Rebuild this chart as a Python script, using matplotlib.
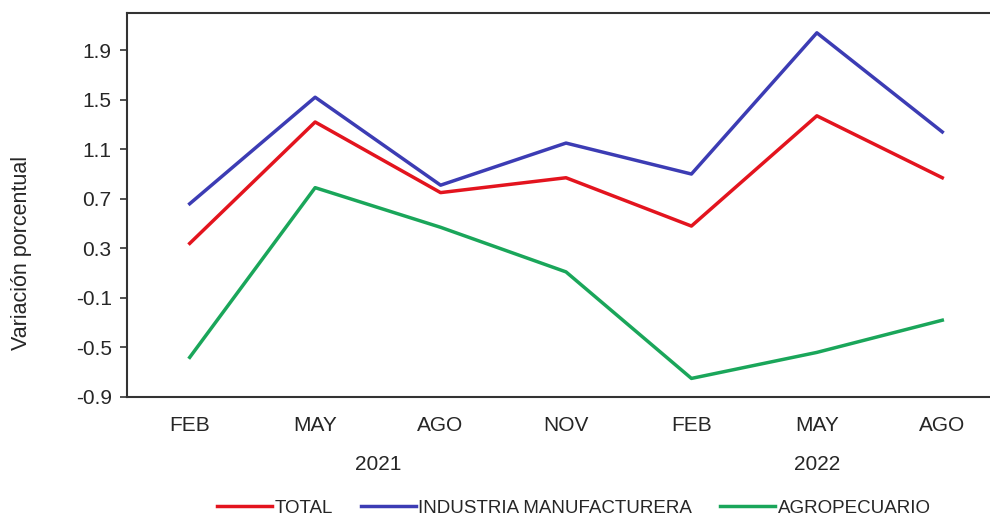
import matplotlib.pyplot as plt

months = ['FEB', 'MAY', 'AGO', 'NOV', 'FEB', 'MAY', 'AGO']
years = ['2021', '2022']
year_spans = [(0, 3), (4, 6)]

total = [0.34, 1.32, 0.75, 0.87, 0.48, 1.37, 0.87]
industria = [0.66, 1.52, 0.81, 1.15, 0.90, 2.04, 1.24]
agro = [-0.58, 0.79, 0.47, 0.11, -0.75, -0.54, -0.28]

yticks = [-0.9, -0.5, -0.1, 0.3, 0.7, 1.1, 1.5, 1.9]

plt.rcParams['font.family'] = ['Liberation Sans', 'DejaVu Sans']
txt = '#262626'

fig = plt.figure(figsize=(9.9, 5.18), dpi=100)
ax = fig.add_axes([127 / 990, 1 - 397 / 518, (1005 - 127) / 990, (397 - 13) / 518])

x = list(range(len(months)))
ax.plot(x, total, color='#e3141e', lw=2.5, label='TOTAL')
ax.plot(x, industria, color='#3c3cb4', lw=2.5, label='INDUSTRIA MANUFACTURERA')
ax.plot(x, agro, color='#1aa65a', lw=2.5, label='AGROPECUARIO')

ax.set_xlim(-0.5, 6.5)
ax.set_ylim(-0.9, 2.2)
ax.set_yticks(yticks)
ax.set_yticklabels([f'{v:.1f}' for v in yticks], fontsize=15, color=txt)
ax.tick_params(axis='y', length=5, width=1.2, pad=6, color='#333333')
ax.set_xticks(x)
ax.set_xticklabels(months, fontsize=15, color=txt)
ax.tick_params(axis='x', length=0, pad=14)
for s in ax.spines.values():
    s.set_linewidth(1.5)
    s.set_color('#333333')

# year labels centred under their months
for yr, (a, b) in zip(years, year_spans):
    xc = ax.transData.transform(((a + b) / 2, 0))[0] / fig.dpi / fig.get_figwidth()
    fig.text(xc, 1 - 464 / 518, yr, ha='center', va='center', fontsize=15, color=txt)

fig.text(22 / 990, 1 - 253 / 518, 'Variación porcentual', rotation=90,
         ha='center', va='center', fontsize=15.5, color=txt)

leg = fig.legend(loc='center', bbox_to_anchor=(574 / 990, 1 - 508 / 518), ncol=3,
                 frameon=False, handlelength=2.9, handletextpad=0.15, columnspacing=1.5,
                 prop={'size': 13.5})
for t in leg.get_texts():
    t.set_color(txt)

fig.savefig('out.png', dpi=100)
